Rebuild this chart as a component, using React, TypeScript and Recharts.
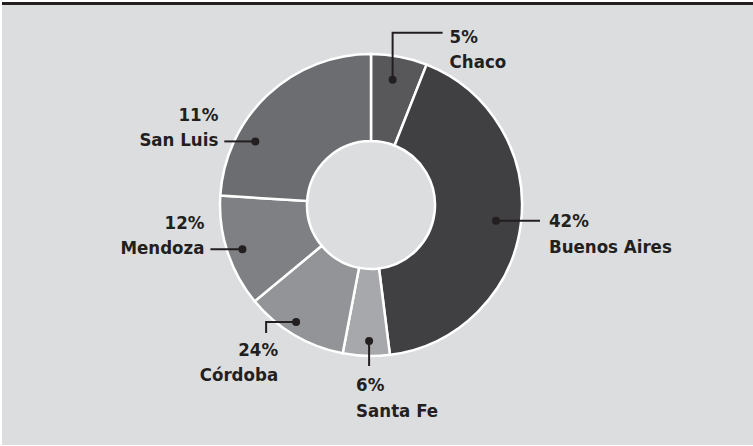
import { PieChart, Pie, Cell } from 'recharts';

// slice order runs clockwise from 12 o'clock
const regions = ['Chaco', 'Buenos Aires', 'Santa Fe', 'Córdoba', 'Mendoza', 'San Luis'];
const shares = [6, 42, 5, 11, 12, 24];
const pctLabels = ['5%', '42%', '6%', '24%', '12%', '11%'];
const fills = ['#58585a', '#403f41', '#a7a8ab', '#929497', '#7f8084', '#6c6d70'];

// leader line layout for each slice (nudge = clockwise degrees from mid angle)
const leaders = [
  { kind: 'upRight', nudge: -1, r: 127, a: 47, b: 50 },
  { kind: 'right', nudge: 0, r: 126, a: 0, b: 44 },
  { kind: 'down', nudge: -1, r: 136, a: 25, b: 0 },
  { kind: 'leftDown', nudge: 2, r: 139, a: 11, b: 30 },
  { kind: 'left', nudge: -1, r: 136, a: 0, b: 32 },
  { kind: 'left', nudge: -18, r: 132, a: 0, b: 31 },
];

const data = regions.map((name, i) => ({ name, value: shares[i], pct: pctLabels[i] }));

const INK = '#231f20';
const RAD = Math.PI / 180;

const txt = {
  fill: INK,
  fontSize: 18.5,
  fontWeight: 700,
  fontFamily: '"DejaVu Sans Condensed", "DejaVu Sans", sans-serif',
};

function LeaderLabel(props: any) {
  const { cx, cy, midAngle, index } = props;
  const l = leaders[index];
  const d = data[index];
  const ang = (midAngle - l.nudge) * RAD;
  const x = cx + l.r * Math.cos(ang);
  const y = cy - l.r * Math.sin(ang);

  let path = '';
  let tx = 0;
  let py = 0;
  let ny = 0;
  let anchor: 'start' | 'end' = 'start';

  if (l.kind === 'upRight') {
    path = `M${x},${y}V${y - l.a}H${x + l.b}`;
    tx = x + l.b + 7;
    py = y - l.a + 10;
    ny = py + 25;
  } else if (l.kind === 'right') {
    path = `M${x},${y}H${x + l.b}`;
    tx = x + l.b + 9;
    py = y + 6;
    ny = py + 26;
  } else if (l.kind === 'down') {
    path = `M${x},${y}V${y + l.a}`;
    tx = x - 13;
    py = y + l.a + 25;
    ny = py + 26;
  } else if (l.kind === 'leftDown') {
    path = `M${x},${y}H${x - l.b}V${y + l.a}`;
    tx = x - l.b + 12;
    anchor = 'end';
    py = y + l.a + 23;
    ny = py + 25;
  } else {
    path = `M${x},${y}H${x - l.b}`;
    tx = x - l.b - 6;
    anchor = 'end';
    ny = y + 5;
    py = ny - 25;
  }

  return (
    <g>
      <path d={path} stroke={INK} strokeWidth={2} fill="none" />
      <circle cx={x} cy={y} r={4} fill={INK} />
      <text x={tx} y={py} textAnchor={anchor} style={txt}>
        {d.pct}
      </text>
      <text x={tx} y={ny} textAnchor={anchor} style={txt}>
        {d.name}
      </text>
    </g>
  );
}

export default function App() {
  return (
    <div style={{ position: 'fixed', left: 0, top: 0, width: 753, height: 446, background: '#fff' }}>
      <div
        style={{
          position: 'absolute',
          left: 2,
          top: 2,
          width: 751,
          height: 440,
          background: '#dcdddf',
          borderTop: `3px solid ${INK}`,
        }}
      />
      <div style={{ position: 'absolute', left: 0, top: 0 }}>
        <PieChart width={753} height={446} margin={{ top: 0, right: 0, bottom: 0, left: 0 }}>
          <Pie
            data={data}
            dataKey="value"
            nameKey="name"
            cx={371}
            cy={205}
            innerRadius={64}
            outerRadius={151}
            startAngle={90}
            endAngle={-270}
            stroke="#ffffff"
            strokeWidth={2.5}
            label={LeaderLabel}
            labelLine={false}
            isAnimationActive={false}
          >
            {data.map((d, i) => (
              <Cell key={d.name} fill={fills[i]} />
            ))}
          </Pie>
        </PieChart>
      </div>
    </div>
  );
}
